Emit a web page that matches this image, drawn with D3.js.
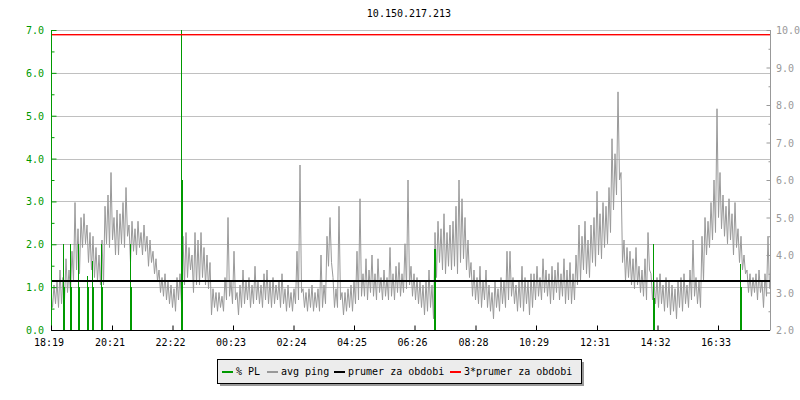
<!DOCTYPE html>
<html>
<head>
<meta charset="utf-8">
<script src="https://cdn.jsdelivr.net/npm/d3@7"></script>
<style>
  body { margin: 0; background: #fff; }
  text { font-family: "DejaVu Sans Mono", monospace; font-size: 10px; }
</style>
</head>
<body>
<div id="chart"></div>
<script>
// x axis labels (start of graph is the first one)
const timeLabels = ["18:19", "20:21", "22:22", "00:23", "02:24", "04:25",
    "06:26", "08:28", "10:29", "12:31", "14:32", "16:33"];

// avg ping in ms, low / high of each 6 minute slot from the start
const pingStep = 6;
const pingLow = [
    2.6, 2.7, 2.6, 2.7, 2.8, 3.0, 3.0, 3.3, 3.6, 3.5, 4.2, 4.3, 3.8, 3.6, 3.4, 3.3,
    3.2, 3.2, 4.3, 4.2, 4.4, 4.0, 4.0, 4.3, 4.2, 4.5, 3.8, 4.1, 4.0, 4.2, 4.0, 4.1,
    3.7, 3.8, 3.5, 3.3, 3.0, 2.9, 2.8, 2.7, 2.6, 2.5, 2.8, 2.7, 3.2, 3.4, 3.6, 3.0,
    3.2, 3.2, 3.4, 3.2, 3.1, 2.4, 2.6, 2.5, 2.6, 2.5, 2.8, 2.9, 2.7, 2.8, 2.4, 2.6,
    2.7, 2.8, 2.6, 2.7, 2.8, 2.7, 2.6, 2.8, 2.7, 2.6, 2.7, 2.8, 2.6, 2.7, 2.5, 2.6,
    2.5, 2.7, 2.8, 3.0, 2.6, 2.5, 2.6, 2.5, 2.6, 2.5, 2.6, 2.7, 3.7, 3.8, 2.6, 2.6,
    2.8, 2.4, 2.5, 2.6, 2.5, 2.7, 2.8, 2.9, 2.9, 2.8, 3.0, 2.9, 2.8, 3.0, 2.8, 2.9,
    2.8, 2.9, 2.8, 3.0, 2.9, 3.0, 3.1, 3.2, 2.9, 2.8, 2.7, 2.6, 2.4, 2.5, 2.6, 2.3,
    3.4, 3.8, 3.6, 3.5, 3.7, 3.6, 3.7, 3.5, 3.8, 3.9, 3.6, 3.4, 2.9, 2.8, 2.7, 2.6,
    2.8, 2.6, 2.5, 2.3, 2.6, 2.5, 2.7, 2.6, 2.8, 2.9, 2.7, 2.5, 2.6, 2.5, 2.7, 2.4,
    2.6, 2.8, 2.9, 2.8, 3.0, 2.9, 2.7, 2.8, 3.0, 2.8, 2.9, 2.7, 2.8, 2.7, 2.8, 3.2,
    3.3, 3.6, 3.5, 3.4, 3.8, 3.7, 4.0, 3.9, 4.2, 4.3, 4.6, 5.2, 5.6, 6.0, 3.8, 3.3,
    3.4, 3.2, 3.1, 3.2, 3.0, 2.9, 2.8, 3.6, 2.8, 2.7, 2.6, 2.7, 2.5, 2.6, 2.4, 2.5,
    2.3, 2.6, 2.5, 2.7, 2.6, 2.8, 2.9, 2.7, 2.6, 3.3, 4.0, 4.2, 4.4, 4.6, 5.0, 4.7,
    4.5, 4.3, 4.4, 4.0, 4.2, 3.8, 3.6, 3.5, 3.0, 2.9, 3.0, 2.8, 3.0, 2.6, 2.9, 3.1
];
const pingHigh = [
    3.0, 3.2, 3.3, 3.6, 3.4, 3.9, 3.6, 4.1, 5.4, 4.7, 5.0, 5.1, 4.8, 4.6, 4.5, 4.2,
    4.0, 4.4, 5.3, 5.6, 6.2, 5.0, 5.2, 5.1, 5.4, 5.8, 4.8, 4.9, 4.7, 4.9, 4.6, 4.8,
    4.5, 4.4, 4.1, 3.9, 3.6, 3.4, 3.5, 3.3, 3.2, 3.1, 3.4, 3.5, 4.5, 4.6, 4.2, 4.0,
    4.6, 4.4, 4.6, 4.2, 4.0, 3.8, 3.1, 3.0, 3.0, 2.9, 3.4, 5.0, 3.3, 4.1, 3.0, 3.2,
    3.6, 3.3, 3.4, 3.2, 3.7, 3.3, 3.2, 3.5, 3.6, 3.3, 3.4, 3.2, 3.3, 3.5, 3.1, 3.2,
    3.0, 3.1, 4.1, 6.4, 3.1, 3.0, 3.1, 3.2, 3.0, 3.1, 4.0, 3.2, 4.5, 5.0, 3.4, 3.1,
    5.3, 3.0, 3.0, 3.1, 3.2, 3.3, 4.1, 5.5, 3.5, 3.9, 3.6, 4.0, 3.5, 3.9, 3.4, 3.6,
    3.4, 4.2, 3.5, 3.7, 3.8, 3.5, 4.3, 6.0, 3.7, 3.5, 3.4, 3.3, 3.2, 3.3, 3.6, 3.2,
    4.6, 4.9, 4.7, 5.1, 4.6, 4.8, 4.9, 5.3, 6.0, 5.5, 5.0, 4.4, 3.8, 3.6, 3.4, 3.7,
    3.3, 3.6, 3.2, 3.0, 3.3, 3.1, 3.4, 3.3, 4.1, 4.1, 3.4, 3.2, 3.3, 3.7, 3.4, 3.3,
    3.5, 3.5, 3.7, 3.4, 3.9, 3.6, 3.5, 3.7, 3.6, 3.8, 3.5, 3.9, 3.6, 3.8, 3.5, 4.0,
    4.8, 4.5, 4.9, 4.4, 4.8, 5.0, 5.7, 5.1, 5.4, 5.3, 5.8, 7.1, 6.7, 8.35, 6.2, 4.4,
    4.2, 4.1, 3.9, 4.2, 3.7, 3.6, 3.9, 4.6, 3.5, 3.3, 3.4, 3.5, 3.2, 3.4, 3.3, 3.2,
    3.1, 3.3, 3.4, 3.5, 3.2, 3.6, 4.4, 3.4, 3.3, 4.5, 5.0, 4.9, 5.4, 6.0, 7.9, 6.2,
    5.6, 5.3, 5.5, 5.1, 5.4, 4.7, 4.5, 4.0, 3.6, 3.5, 3.4, 3.5, 3.6, 3.3, 3.5, 4.5
];

// packet loss %, minutes from start
const plTimes  = [25, 27, 39, 41, 55, 57, 72, 74, 83, 85, 101, 103, 158, 160,
    260, 262, 766, 768, 1204, 1206, 1378, 1380];
const plValues = [2.0, 1.0, 2.0, 1.0, 2.0, 1.0, 1.25, 1.0, 1.6, 1.0, 2.0, 1.0, 2.0, 1.0,
    7.0, 3.5, 1.9, 1.9, 2.0, 0.75, 1.55, 1.0];

const meanPing = 3.3;
const tripleMean = 9.9;

const leftTicks = [0, 1, 2, 3, 4, 5, 6, 7];
const rightTicks = [2, 3, 4, 5, 6, 7, 8, 9, 10];

const GREEN = "#009900", GRAY = "#999999", GRID = "#c0c0c0";

const svg = d3.select("#chart").append("svg")
    .attr("width", 800).attr("height", 400);

const pLeft = 51, pRight = 770, pTop = 30, pBottom = 330;

const x = d3.scaleLinear().domain([0, 1440]).range([pLeft, pLeft + 720]);
const yPL = d3.scaleLinear().domain([0, 7]).range([pBottom, pTop]);
const yPing = d3.scaleLinear().domain([2, 10]).range([pBottom, pTop]);

// minutes from start for each time label
const startMin = +timeLabels[0].slice(0, 2) * 60 + +timeLabels[0].slice(3);
const tickMins = timeLabels.map(s => {
    let m = +s.slice(0, 2) * 60 + +s.slice(3);
    return (m - startMin + 1440) % 1440;
});

// title
svg.append("text")
    .attr("x", 409).attr("y", 17)
    .attr("text-anchor", "middle")
    .text("10.150.217.213");

// grid
svg.append("g").selectAll("line")
    .data(leftTicks.filter(d => d > 0))
    .join("line")
    .attr("x1", pLeft).attr("x2", pRight)
    .attr("y1", d => Math.round(yPL(d)) + 0.5)
    .attr("y2", d => Math.round(yPL(d)) + 0.5)
    .attr("stroke", GRID)
    .attr("shape-rendering", "crispEdges");

svg.append("defs").append("clipPath").attr("id", "plot")
    .append("rect").attr("x", pLeft).attr("y", pTop)
    .attr("width", pRight - pLeft).attr("height", pBottom - pTop);

const plot = svg.append("g").attr("clip-path", "url(#plot)");

// avg ping: each slot drawn high then low
const pingPts = pingHigh.flatMap((h, i) => [
    [i * pingStep, h],
    [i * pingStep + pingStep / 2, pingLow[i]]
]);
const pingLine = d3.line()
    .x(d => x(d[0]))
    .y(d => yPing(d[1]));

plot.append("path")
    .datum(pingPts)
    .attr("d", pingLine)
    .attr("fill", "none")
    .attr("stroke", GRAY)
    .attr("stroke-width", 1);

// packet loss spikes (one pixel column each)
plot.append("g").selectAll("line")
    .data(plTimes)
    .join("line")
    .attr("x1", d => Math.floor(x(d)) + 0.5)
    .attr("x2", d => Math.floor(x(d)) + 0.5)
    .attr("y1", pBottom)
    .attr("y2", (d, i) => Math.round(yPL(plValues[i])))
    .attr("stroke", GREEN)
    .attr("stroke-width", 1)
    .attr("shape-rendering", "crispEdges");

// mean line and 3x mean line
plot.append("rect")
    .attr("x", pLeft).attr("width", pRight - pLeft)
    .attr("y", Math.round(yPing(meanPing)) - 1).attr("height", 2)
    .attr("fill", "#000");

plot.append("rect")
    .attr("x", pLeft).attr("width", pRight - pLeft)
    .attr("y", Math.round(yPing(tripleMean))).attr("height", 1.4)
    .attr("fill", "#ff0000");

// left axis
const leftAxis = svg.append("g")
    .attr("transform", `translate(${pLeft + 0.5},0)`)
    .call(d3.axisRight(yPL).tickValues(d3.range(0, 7.01, 0.5)).tickSize(0).tickFormat(""));
leftAxis.select(".domain").remove();
leftAxis.selectAll(".tick line")
    .attr("x2", d => d % 1 === 0 ? 5 : 3)
    .attr("stroke", GREEN);
svg.append("line")
    .attr("x1", pLeft + 0.5).attr("x2", pLeft + 0.5)
    .attr("y1", pTop).attr("y2", pBottom)
    .attr("stroke", GREEN).attr("shape-rendering", "crispEdges");
svg.append("g").selectAll("text")
    .data(leftTicks)
    .join("text")
    .attr("x", 44).attr("y", d => yPL(d) + 4)
    .attr("text-anchor", "end")
    .attr("fill", GREEN)
    .text(d => d.toFixed(1));

// right axis
const rightAxis = svg.append("g")
    .attr("transform", `translate(${pRight + 0.5},0)`)
    .call(d3.axisLeft(yPing).tickValues(d3.range(2, 10.01, 0.5)).tickSize(0).tickFormat(""));
rightAxis.select(".domain").remove();
rightAxis.selectAll(".tick line")
    .attr("x2", d => d % 1 === 0 ? -4 : -2)
    .attr("stroke", GRAY);
svg.append("line")
    .attr("x1", pRight + 0.5).attr("x2", pRight + 0.5)
    .attr("y1", pTop).attr("y2", pBottom)
    .attr("stroke", GRAY).attr("shape-rendering", "crispEdges");
svg.append("g").selectAll("text")
    .data(rightTicks)
    .join("text")
    .attr("x", 776).attr("y", d => yPing(d) + 4)
    .attr("fill", GRAY)
    .text(d => d.toFixed(1));

// x axis
const xAxis = svg.append("g")
    .attr("transform", `translate(0,${pBottom + 0.5})`)
    .call(d3.axisTop(x).tickValues(tickMins).tickSize(5).tickFormat(""));
xAxis.select(".domain").remove();
xAxis.selectAll(".tick line").attr("stroke", "#000");
svg.append("line")
    .attr("x1", pLeft).attr("x2", pRight)
    .attr("y1", pBottom + 0.5).attr("y2", pBottom + 0.5)
    .attr("stroke", "#000").attr("shape-rendering", "crispEdges");
svg.append("g").selectAll("text")
    .data(tickMins)
    .join("text")
    .attr("x", d => x(d) - 2).attr("y", 346)
    .attr("text-anchor", "middle")
    .attr("fill", "#000")
    .text((d, i) => timeLabels[i]);

// legend
const legendItems = [
    { name: "% PL", color: GREEN, x: 222 },
    { name: "avg ping", color: GRAY, x: 267 },
    { name: "prumer za obdobi", color: "#000", x: 334 },
    { name: "3*prumer za obdobi", color: "#ff0000", x: 450 }
];
svg.append("rect")
    .attr("x", 220).attr("y", 362).attr("width", 364).attr("height", 24)
    .attr("fill", "#999");
svg.append("rect")
    .attr("x", 217.5).attr("y", 359.5).attr("width", 364).attr("height", 24)
    .attr("fill", "#ececec").attr("stroke", "#000");
const lg = svg.append("g").selectAll("g")
    .data(legendItems)
    .join("g");
lg.append("rect")
    .attr("x", d => d.x).attr("y", 371)
    .attr("width", 11).attr("height", 2)
    .attr("fill", d => d.color);
lg.append("text")
    .attr("x", d => d.x + 14).attr("y", 375)
    .attr("fill", "#000")
    .text(d => d.name);
</script>
</body>
</html>
